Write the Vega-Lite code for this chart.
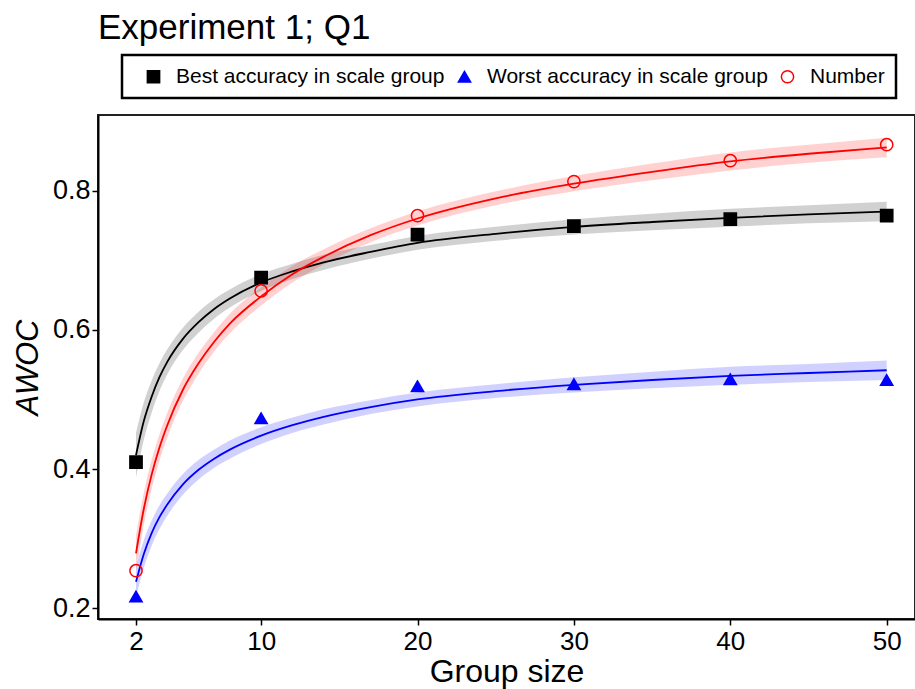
{
  "$schema": "https://vega.github.io/schema/vega-lite/v6.json",
  "autosize": {"type": "none"},
  "padding": {"left": 98, "top": 115, "right": 0, "bottom": 70},
  "width": 817,
  "height": 504,
  "background": "white",
  "title": {"text": "Experiment 1; Q1", "anchor": "start", "frame": "group", "fontSize": 35, "font": "Liberation Sans", "fontWeight": "normal", "color": "black", "offset": 8},
  "config": {
    "view": {"stroke": "#222222", "strokeWidth": 2},
    "font": "Liberation Sans",
    "legend": {"strokeWidth": 2.5},
    "axis": {"grid": false, "domainColor": "black", "domainWidth": 2, "tickColor": "black", "tickWidth": 1.5, "tickSize": 6, "labelColor": "black", "labelFont": "Liberation Sans", "titleFont": "Liberation Sans", "titleColor": "black", "titleFontWeight": "normal"}
  },
  "datasets": {
    "fits": [
      {"g": 2, "s": "Best accuracy in scale group", "fit": 0.420, "lo": 0.388, "hi": 0.452},
      {"g": 2.5, "s": "Best accuracy in scale group", "fit": 0.469, "lo": 0.442, "hi": 0.496},
      {"g": 3, "s": "Best accuracy in scale group", "fit": 0.504, "lo": 0.481, "hi": 0.527},
      {"g": 3.5, "s": "Best accuracy in scale group", "fit": 0.532, "lo": 0.512, "hi": 0.552},
      {"g": 4, "s": "Best accuracy in scale group", "fit": 0.554, "lo": 0.536, "hi": 0.572},
      {"g": 5, "s": "Best accuracy in scale group", "fit": 0.587, "lo": 0.571, "hi": 0.603},
      {"g": 6, "s": "Best accuracy in scale group", "fit": 0.611, "lo": 0.596, "hi": 0.626},
      {"g": 7, "s": "Best accuracy in scale group", "fit": 0.630, "lo": 0.616, "hi": 0.644},
      {"g": 8, "s": "Best accuracy in scale group", "fit": 0.645, "lo": 0.632, "hi": 0.658},
      {"g": 10, "s": "Best accuracy in scale group", "fit": 0.668, "lo": 0.656, "hi": 0.680},
      {"g": 12, "s": "Best accuracy in scale group", "fit": 0.684, "lo": 0.673, "hi": 0.695},
      {"g": 14, "s": "Best accuracy in scale group", "fit": 0.697, "lo": 0.686, "hi": 0.708},
      {"g": 17, "s": "Best accuracy in scale group", "fit": 0.712, "lo": 0.702, "hi": 0.722},
      {"g": 20, "s": "Best accuracy in scale group", "fit": 0.725, "lo": 0.715, "hi": 0.735},
      {"g": 25, "s": "Best accuracy in scale group", "fit": 0.738, "lo": 0.728, "hi": 0.748},
      {"g": 30, "s": "Best accuracy in scale group", "fit": 0.748, "lo": 0.737, "hi": 0.759},
      {"g": 35, "s": "Best accuracy in scale group", "fit": 0.755, "lo": 0.743, "hi": 0.767},
      {"g": 40, "s": "Best accuracy in scale group", "fit": 0.761, "lo": 0.748, "hi": 0.774},
      {"g": 45, "s": "Best accuracy in scale group", "fit": 0.766, "lo": 0.753, "hi": 0.779},
      {"g": 50, "s": "Best accuracy in scale group", "fit": 0.770, "lo": 0.756, "hi": 0.784},
      {"g": 2, "s": "Worst accuracy in scale group", "fit": 0.238, "lo": 0.216, "hi": 0.260},
      {"g": 2.5, "s": "Worst accuracy in scale group", "fit": 0.278, "lo": 0.258, "hi": 0.298},
      {"g": 3, "s": "Worst accuracy in scale group", "fit": 0.308, "lo": 0.290, "hi": 0.326},
      {"g": 3.5, "s": "Worst accuracy in scale group", "fit": 0.331, "lo": 0.314, "hi": 0.348},
      {"g": 4, "s": "Worst accuracy in scale group", "fit": 0.349, "lo": 0.333, "hi": 0.365},
      {"g": 5, "s": "Worst accuracy in scale group", "fit": 0.378, "lo": 0.363, "hi": 0.393},
      {"g": 6, "s": "Worst accuracy in scale group", "fit": 0.399, "lo": 0.385, "hi": 0.413},
      {"g": 7, "s": "Worst accuracy in scale group", "fit": 0.415, "lo": 0.402, "hi": 0.428},
      {"g": 8, "s": "Worst accuracy in scale group", "fit": 0.428, "lo": 0.415, "hi": 0.441},
      {"g": 10, "s": "Worst accuracy in scale group", "fit": 0.448, "lo": 0.436, "hi": 0.460},
      {"g": 12, "s": "Worst accuracy in scale group", "fit": 0.463, "lo": 0.452, "hi": 0.474},
      {"g": 14, "s": "Worst accuracy in scale group", "fit": 0.475, "lo": 0.464, "hi": 0.486},
      {"g": 17, "s": "Worst accuracy in scale group", "fit": 0.489, "lo": 0.479, "hi": 0.499},
      {"g": 20, "s": "Worst accuracy in scale group", "fit": 0.500, "lo": 0.490, "hi": 0.510},
      {"g": 25, "s": "Worst accuracy in scale group", "fit": 0.512, "lo": 0.502, "hi": 0.522},
      {"g": 30, "s": "Worst accuracy in scale group", "fit": 0.521, "lo": 0.510, "hi": 0.532},
      {"g": 35, "s": "Worst accuracy in scale group", "fit": 0.528, "lo": 0.516, "hi": 0.540},
      {"g": 40, "s": "Worst accuracy in scale group", "fit": 0.534, "lo": 0.521, "hi": 0.547},
      {"g": 45, "s": "Worst accuracy in scale group", "fit": 0.538, "lo": 0.525, "hi": 0.551},
      {"g": 50, "s": "Worst accuracy in scale group", "fit": 0.542, "lo": 0.528, "hi": 0.556},
      {"g": 2, "s": "Number", "fit": 0.279, "lo": 0.253, "hi": 0.305},
      {"g": 2.5, "s": "Number", "fit": 0.343, "lo": 0.320, "hi": 0.366},
      {"g": 3, "s": "Number", "fit": 0.392, "lo": 0.371, "hi": 0.413},
      {"g": 3.5, "s": "Number", "fit": 0.431, "lo": 0.412, "hi": 0.450},
      {"g": 4, "s": "Number", "fit": 0.463, "lo": 0.445, "hi": 0.481},
      {"g": 5, "s": "Number", "fit": 0.514, "lo": 0.498, "hi": 0.530},
      {"g": 6, "s": "Number", "fit": 0.552, "lo": 0.537, "hi": 0.567},
      {"g": 7, "s": "Number", "fit": 0.583, "lo": 0.569, "hi": 0.597},
      {"g": 8, "s": "Number", "fit": 0.609, "lo": 0.595, "hi": 0.623},
      {"g": 10, "s": "Number", "fit": 0.648, "lo": 0.635, "hi": 0.661},
      {"g": 12, "s": "Number", "fit": 0.680, "lo": 0.668, "hi": 0.692},
      {"g": 14, "s": "Number", "fit": 0.705, "lo": 0.694, "hi": 0.716},
      {"g": 17, "s": "Number", "fit": 0.736, "lo": 0.726, "hi": 0.746},
      {"g": 20, "s": "Number", "fit": 0.760, "lo": 0.750, "hi": 0.770},
      {"g": 25, "s": "Number", "fit": 0.789, "lo": 0.779, "hi": 0.799},
      {"g": 30, "s": "Number", "fit": 0.810, "lo": 0.799, "hi": 0.821},
      {"g": 35, "s": "Number", "fit": 0.827, "lo": 0.815, "hi": 0.839},
      {"g": 40, "s": "Number", "fit": 0.842, "lo": 0.829, "hi": 0.855},
      {"g": 45, "s": "Number", "fit": 0.853, "lo": 0.840, "hi": 0.866},
      {"g": 50, "s": "Number", "fit": 0.862, "lo": 0.848, "hi": 0.876}
    ],
    "obs": [
      {"g": 2, "s": "Best accuracy in scale group", "v": 0.410},
      {"g": 10, "s": "Best accuracy in scale group", "v": 0.675},
      {"g": 20, "s": "Best accuracy in scale group", "v": 0.737},
      {"g": 30, "s": "Best accuracy in scale group", "v": 0.749},
      {"g": 40, "s": "Best accuracy in scale group", "v": 0.759},
      {"g": 50, "s": "Best accuracy in scale group", "v": 0.764},
      {"g": 2, "s": "Worst accuracy in scale group", "v": 0.217},
      {"g": 10, "s": "Worst accuracy in scale group", "v": 0.473},
      {"g": 20, "s": "Worst accuracy in scale group", "v": 0.519},
      {"g": 30, "s": "Worst accuracy in scale group", "v": 0.522},
      {"g": 40, "s": "Worst accuracy in scale group", "v": 0.529},
      {"g": 50, "s": "Worst accuracy in scale group", "v": 0.528},
      {"g": 2, "s": "Number", "v": 0.254},
      {"g": 10, "s": "Number", "v": 0.656},
      {"g": 20, "s": "Number", "v": 0.764},
      {"g": 30, "s": "Number", "v": 0.813},
      {"g": 40, "s": "Number", "v": 0.843},
      {"g": 50, "s": "Number", "v": 0.866}
    ]
  },
  "encoding": {
    "x": {"field": "g", "type": "quantitative", "scale": {"domain": [-0.43, 51.81], "nice": false, "zero": false},
      "axis": {"title": "Group size", "values": [2, 10, 20, 30, 40, 50], "labelFontSize": 26, "labelPadding": 3, "titleFontSize": 32, "titlePadding": 2}}
  },
  "layer": [
    {
      "data": {"name": "fits"},
      "mark": {"type": "area", "opacity": 0.18, "interpolate": "monotone"},
      "encoding": {
        "y": {"field": "lo", "type": "quantitative", "scale": {"domain": [0.1846, 0.9087], "nice": false, "zero": false},
          "axis": {"title": "AWOC", "values": [0.2, 0.4, 0.6, 0.8], "format": ".1f", "labelFontSize": 27, "labelPadding": 2, "titleFontSize": 31, "titleFontStyle": "italic", "titlePadding": 8}},
        "y2": {"field": "hi"},
        "color": {"field": "s", "type": "nominal", "scale": {"domain": ["Best accuracy in scale group", "Worst accuracy in scale group", "Number"], "range": ["#000000", "#0000ff", "#ff0000"]}, "legend": null}
      }
    },
    {
      "data": {"name": "fits"},
      "mark": {"type": "line", "strokeWidth": 1.8, "interpolate": "monotone"},
      "encoding": {
        "y": {"field": "fit", "type": "quantitative"},
        "color": {"field": "s", "type": "nominal", "scale": {"domain": ["Best accuracy in scale group", "Worst accuracy in scale group", "Number"], "range": ["#000000", "#0000ff", "#ff0000"]}, "legend": null}
      }
    },
    {
      "data": {"name": "obs"},
      "mark": {"type": "point", "size": 150, "strokeWidth": 1.5, "opacity": 1},
      "encoding": {
        "y": {"field": "v", "type": "quantitative"},
        "shape": {"field": "s", "type": "nominal", "scale": {"domain": ["Best accuracy in scale group", "Worst accuracy in scale group", "Number"], "range": ["square", "triangle-up", "circle"]},
          "legend": {"title": " ", "titleOrient": "left", "titlePadding": 10, "titleFontSize": 21, "orient": "none", "legendX": 24, "legendY": -60, "direction": "horizontal", "strokeColor": "black", "padding": 11, "labelFontSize": 21, "labelLimit": 500, "labelColor": "black", "labelFont": "Liberation Sans", "symbolSize": 150, "labelOffset": 12, "columnPadding": 9, "symbolStrokeWidth": 1.5}},
        "stroke": {"field": "s", "type": "nominal", "scale": {"domain": ["Best accuracy in scale group", "Worst accuracy in scale group", "Number"], "range": ["#000000", "#0000ff", "#ff0000"]},
          "legend": {"title": " ", "titleOrient": "left", "titlePadding": 10, "titleFontSize": 21, "orient": "none", "legendX": 24, "legendY": -60, "direction": "horizontal", "strokeColor": "black", "padding": 11, "labelFontSize": 21, "labelLimit": 500, "labelColor": "black", "labelFont": "Liberation Sans", "symbolSize": 150, "labelOffset": 12, "columnPadding": 9, "symbolStrokeWidth": 1.5}},
        "fill": {"field": "s", "type": "nominal", "scale": {"domain": ["Best accuracy in scale group", "Worst accuracy in scale group", "Number"], "range": ["#000000", "#0000ff", "transparent"]},
          "legend": {"title": " ", "titleOrient": "left", "titlePadding": 10, "titleFontSize": 21, "orient": "none", "legendX": 24, "legendY": -60, "direction": "horizontal", "strokeColor": "black", "padding": 11, "labelFontSize": 21, "labelLimit": 500, "labelColor": "black", "labelFont": "Liberation Sans", "symbolSize": 150, "labelOffset": 12, "columnPadding": 9, "symbolStrokeWidth": 1.5}}
      }
    }
  ],
  "resolve": {"scale": {"color": "independent"}}
}
